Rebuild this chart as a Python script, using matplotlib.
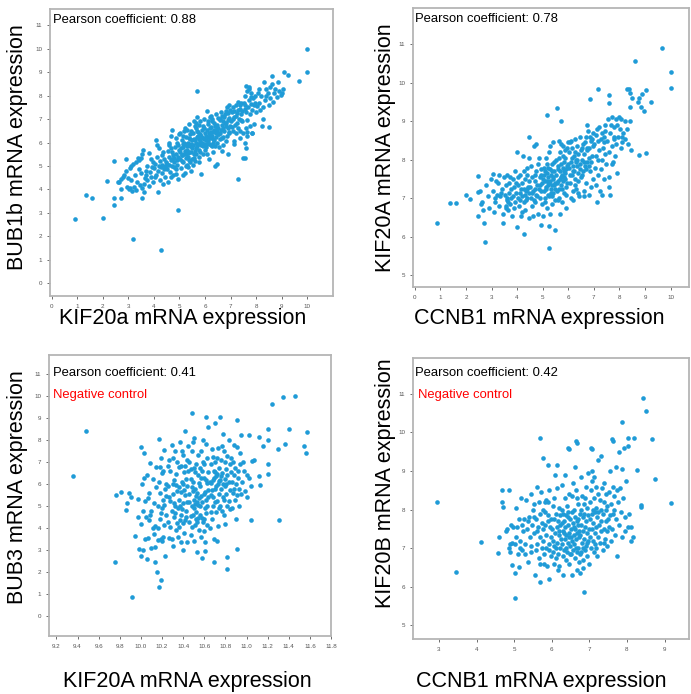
import numpy as np
import matplotlib
matplotlib.use("Agg")
import matplotlib.pyplot as plt

plt.rcParams['font.family'] = ['Liberation Sans', 'DejaVu Sans']

# ---- panel A: KIF20a vs BUB1b ----
kif20a_bub1b = [
    (0.9, 2.75), (1.35, 3.75), (1.6, 3.62), (2.0, 2.78), (2.15, 4.37), (2.45, 5.2),
    (2.45, 3.62), (2.45, 3.35), (2.6, 4.32), (2.7, 3.64), (2.9, 5.28), (3.2, 1.9),
    (4.26, 1.41), (4.96, 3.1), (5.68, 8.2), (7.28, 4.45), (9.97, 10.0), (10.0, 9.0),
    (9.66, 8.63), (9.07, 9.02), (8.5, 6.66), (7.47, 5.36),
    (2.62, 4.32), (2.7, 4.45), (2.78, 4.55), (2.85, 4.62), (2.72, 4.0), (2.95, 4.1), (2.9, 4.8), (2.98, 4.5),
    (3.05, 4.9), (3.12, 4.98), (3.2, 5.08), (3.3, 5.15), (3.4, 5.25), (3.48, 5.35), (3.55, 5.5),
    (3.02, 4.0), (3.08, 4.05), (3.15, 3.95), (3.22, 4.12), (3.3, 3.98), (3.35, 4.3), (3.25, 4.6),
    (3.42, 4.85), (3.45, 4.2), (3.38, 5.35), (3.1, 4.4), (3.48, 4.7),
    (3.52, 3.65), (3.55, 4.05), (3.6, 3.9), (3.62, 4.25), (3.65, 4.5), (3.7, 4.8), (3.72, 5.0),
    (3.75, 4.4), (3.8, 4.15), (3.85, 4.75), (3.88, 5.3), (3.9, 4.55), (3.92, 4.95), (3.58, 5.7),
    (3.68, 4.62), (3.95, 5.15), (3.98, 4.3), (3.82, 5.55),
    (4.02, 4.9), (4.05, 5.1), (4.08, 6.1), (4.1, 4.6), (4.12, 5.4), (4.15, 4.8), (4.18, 3.9),
    (4.2, 5.0), (4.22, 4.4), (4.25, 5.2), (4.28, 4.95), (4.3, 5.05), (4.32, 4.7), (4.35, 5.6),
    (4.38, 4.85), (4.4, 5.3), (4.42, 4.55), (4.45, 5.0), (4.48, 5.15), (4.12, 5.9), (4.35, 4.25),
    (4.2, 5.75), (4.46, 4.9), (4.05, 4.55), (4.3, 5.45),
    (4.52, 5.1), (4.55, 4.3), (4.58, 5.4), (4.6, 5.9), (4.62, 4.75), (4.65, 5.25), (4.68, 6.3),
    (4.7, 5.0), (4.72, 5.6), (4.75, 4.6), (4.78, 5.35), (4.8, 5.15), (4.82, 5.8), (4.85, 4.85),
    (4.88, 5.5), (4.9, 6.0), (4.92, 5.25), (4.95, 4.45), (4.98, 5.7), (4.55, 5.65), (4.6, 5.05),
    (4.7, 6.55), (4.75, 5.45), (4.85, 6.2), (4.9, 5.05), (4.65, 4.55), (4.8, 4.95), (4.95, 5.4),
    (4.58, 6.0), (4.72, 5.3), (4.88, 4.65), (4.98, 6.35), (4.52, 4.85), (4.68, 5.75), (4.94, 5.9),
    (5.02, 5.3), (5.04, 5.6), (5.06, 4.9), (5.08, 6.1), (5.1, 5.45), (5.12, 5.8), (5.14, 5.15),
    (5.16, 6.5), (5.18, 5.5), (5.2, 4.7), (5.22, 5.95), (5.24, 5.35), (5.26, 6.25), (5.28, 5.7),
    (5.3, 5.05), (5.32, 6.0), (5.34, 5.55), (5.36, 6.8), (5.38, 5.25), (5.4, 5.85), (5.42, 6.35),
    (5.44, 5.6), (5.46, 4.8), (5.48, 6.1), (5.05, 5.75), (5.1, 5.2), (5.15, 6.3), (5.2, 5.65),
    (5.25, 5.0), (5.3, 6.55), (5.35, 5.4), (5.4, 6.15), (5.45, 5.95), (5.5, 5.3), (5.08, 5.45),
    (5.18, 6.0), (5.28, 5.85), (5.38, 5.6), (5.48, 5.75), (5.12, 4.6), (5.22, 6.6), (5.32, 4.95),
    (5.42, 5.15), (5.02, 6.4), (5.36, 6.2), (5.46, 6.5), (5.26, 5.5), (5.14, 5.95),
    (5.52, 5.9), (5.54, 6.4), (5.56, 5.5), (5.58, 6.9), (5.6, 6.1), (5.62, 5.2), (5.64, 6.6),
    (5.66, 5.75), (5.68, 6.25), (5.7, 7.1), (5.72, 5.95), (5.74, 6.45), (5.76, 5.4), (5.78, 6.75),
    (5.8, 6.05), (5.82, 5.6), (5.84, 6.3), (5.86, 4.65), (5.88, 6.55), (5.9, 5.85), (5.92, 6.2),
    (5.94, 7.0), (5.96, 5.95), (5.98, 6.4), (5.55, 6.15), (5.6, 5.65), (5.65, 6.0), (5.7, 6.5),
    (5.75, 5.15), (5.8, 6.35), (5.85, 5.9), (5.9, 6.7), (5.95, 6.15), (5.58, 5.35), (5.68, 5.85),
    (5.78, 6.15), (5.88, 6.0), (5.98, 5.7), (5.62, 6.7), (5.72, 6.3), (5.82, 6.9), (5.92, 5.5),
    (5.52, 5.05), (5.66, 6.85), (5.86, 6.25), (5.76, 5.7), (5.96, 6.6), (5.64, 5.5),
    (6.02, 6.3), (6.04, 5.8), (6.06, 7.35), (6.08, 6.55), (6.1, 6.05), (6.12, 6.8), (6.14, 5.3),
    (6.16, 6.4), (6.18, 7.1), (6.2, 6.2), (6.22, 5.9), (6.24, 6.65), (6.26, 6.3), (6.28, 7.0),
    (6.3, 5.6), (6.32, 6.45), (6.34, 6.1), (6.36, 6.85), (6.38, 5.0), (6.4, 6.5), (6.42, 6.25),
    (6.44, 7.2), (6.46, 6.0), (6.48, 6.6), (6.05, 6.1), (6.1, 6.9), (6.15, 5.95), (6.2, 6.6),
    (6.25, 6.45), (6.3, 6.15), (6.35, 6.55), (6.4, 5.85), (6.45, 6.75), (6.5, 6.35), (6.08, 5.5),
    (6.18, 6.35), (6.28, 5.85), (6.38, 6.7), (6.48, 5.1), (6.12, 6.25), (6.22, 7.15), (6.32, 6.0),
    (6.42, 6.4), (6.02, 5.95), (6.26, 6.9), (6.46, 6.5),
    (6.52, 6.6), (6.55, 5.8), (6.58, 7.0), (6.6, 6.4), (6.62, 7.3), (6.65, 6.2), (6.68, 6.75),
    (6.7, 5.9), (6.72, 6.9), (6.75, 6.5), (6.78, 7.2), (6.8, 6.05), (6.82, 6.85), (6.85, 7.5),
    (6.88, 6.6), (6.9, 5.5), (6.92, 7.05), (6.95, 6.45), (6.98, 7.4), (6.55, 6.35), (6.6, 6.95),
    (6.65, 5.65), (6.7, 6.6), (6.75, 7.1), (6.8, 6.7), (6.85, 6.3), (6.9, 6.95), (6.95, 7.6),
    (6.58, 6.15), (6.68, 7.15), (6.78, 6.85), (6.88, 7.25), (6.98, 6.7), (6.62, 6.55), (6.72, 6.25),
    (6.82, 7.35), (6.92, 6.4), (6.52, 7.05),
    (7.02, 6.9), (7.05, 7.3), (7.08, 6.5), (7.1, 7.5), (7.12, 6.05), (7.15, 7.1), (7.18, 6.75),
    (7.2, 7.6), (7.22, 6.4), (7.25, 7.25), (7.28, 7.75), (7.3, 6.6), (7.32, 7.0), (7.35, 7.45),
    (7.38, 6.2), (7.4, 7.7), (7.42, 6.95), (7.45, 7.35), (7.48, 6.4), (7.05, 6.65), (7.1, 7.0),
    (7.15, 5.95), (7.2, 7.15), (7.25, 6.85), (7.3, 7.4), (7.35, 6.5), (7.4, 7.2), (7.45, 6.9),
    (7.12, 7.35), (7.38, 7.6),
    (7.58, 7.6), (7.6, 7.3), (7.62, 6.95), (7.6, 6.6), (7.62, 6.3), (7.58, 6.0), (7.6, 5.75), (7.55, 5.35),
    (7.52, 7.7), (7.55, 8.0), (7.6, 8.4), (7.65, 8.2), (7.68, 7.5), (7.7, 7.8), (7.72, 8.35),
    (7.75, 7.2), (7.78, 7.65), (7.8, 8.1), (7.82, 6.4), (7.85, 7.4), (7.88, 7.9), (7.9, 6.8),
    (7.92, 7.6), (7.95, 8.0), (7.98, 7.3), (7.65, 6.45), (7.75, 6.7), (7.85, 6.4), (7.7, 8.3),
    (7.95, 7.7), (7.55, 7.45), (7.8, 7.95),
    (8.02, 7.55), (8.05, 8.1), (8.1, 7.7), (8.15, 7.4), (8.2, 8.0), (8.25, 7.0), (8.3, 8.6),
    (8.35, 7.8), (8.4, 8.3), (8.45, 8.1), (8.48, 7.6), (8.12, 8.3), (8.28, 7.5), (8.38, 8.0), (8.22, 6.7),
    (8.52, 8.35), (8.55, 7.9), (8.6, 8.5), (8.62, 8.85), (8.7, 8.1), (8.75, 8.3), (8.8, 7.95),
    (8.85, 8.6), (8.9, 8.2), (8.95, 8.05), (8.65, 7.75),
    (9.02, 8.1), (9.05, 8.3), (9.25, 8.9),
]

# ---- panel B: CCNB1 vs KIF20A ----
ccnb1_kif20a = [
    (0.87, 6.37), (1.37, 6.88), (1.6, 6.88), (2.0, 7.1), (2.15, 6.98), (2.47, 7.58), (2.48, 7.17),
    (2.46, 6.55), (2.63, 6.91), (2.66, 6.7), (2.7, 6.35), (2.75, 5.86), (3.05, 7.63), (3.44, 6.35),
    (3.98, 6.26), (4.27, 6.07), (4.48, 8.6), (5.16, 9.16), (5.55, 9.35), (5.71, 9.0), (5.26, 5.7),
    (5.5, 6.19), (5.25, 6.27), (6.86, 9.59), (7.17, 9.85), (7.59, 9.69), (7.59, 9.48), (8.59, 10.57),
    (9.67, 10.9), (10.03, 10.27), (10.0, 9.86), (8.76, 8.12), (9.04, 8.17), (8.29, 9.84), (8.37, 9.84),
    (8.41, 9.73), (8.49, 9.6), (8.41, 9.38), (8.76, 9.6), (8.9, 9.72), (9.03, 9.8), (8.72, 9.5),
    (8.84, 9.36), (8.97, 9.28), (9.23, 9.51),
    (2.55, 7.2), (2.6, 6.85), (2.8, 7.35), (2.88, 7.05), (2.92, 6.75), (2.98, 7.5),
    (3.05, 7.2), (3.1, 6.65), (3.12, 7.0), (3.18, 7.45), (3.22, 7.1), (3.28, 6.8), (3.3, 7.6),
    (3.35, 7.05), (3.4, 7.25), (3.45, 6.6), (3.48, 7.55), (3.15, 6.9), (3.38, 7.15), (3.25, 7.4),
    (3.52, 7.1), (3.55, 6.8), (3.58, 7.35), (3.6, 6.95), (3.62, 7.6), (3.65, 6.7), (3.68, 7.15),
    (3.7, 7.4), (3.72, 6.85), (3.75, 7.0), (3.78, 7.25), (3.8, 6.55), (3.82, 7.5), (3.85, 7.05),
    (3.88, 7.3), (3.9, 6.9), (3.92, 7.7), (3.95, 7.15), (3.98, 8.2), (3.58, 6.75), (3.66, 6.9),
    (3.74, 7.55), (3.86, 6.75), (3.96, 7.4), (3.6, 7.0),
    (4.02, 7.0), (4.05, 7.35), (4.08, 6.8), (4.1, 7.6), (4.12, 7.15), (4.15, 6.55), (4.18, 7.4),
    (4.2, 7.05), (4.22, 8.1), (4.25, 6.9), (4.28, 7.25), (4.3, 7.5), (4.32, 6.7), (4.35, 7.2),
    (4.38, 7.8), (4.4, 7.0), (4.42, 7.3), (4.45, 6.5), (4.48, 7.15), (4.05, 7.55), (4.15, 7.25),
    (4.25, 7.7), (4.35, 6.95), (4.45, 7.45), (4.1, 6.95), (4.3, 7.1), (4.4, 7.6), (4.2, 6.65),
    (4.48, 8.05), (4.38, 7.25),
    (4.52, 7.3), (4.55, 7.0), (4.58, 7.55), (4.6, 6.8), (4.62, 7.2), (4.65, 8.35), (4.68, 7.45),
    (4.7, 6.9), (4.72, 7.7), (4.75, 7.1), (4.78, 7.35), (4.8, 6.6), (4.82, 7.9), (4.85, 7.25),
    (4.88, 7.55), (4.9, 7.0), (4.92, 7.75), (4.95, 6.3), (4.98, 7.4), (4.55, 7.85), (4.62, 6.55),
    (4.7, 7.6), (4.78, 7.05), (4.85, 8.05), (4.92, 7.2), (4.98, 6.85), (4.58, 7.15), (4.68, 7.25),
    (4.88, 7.35), (4.75, 8.4), (4.95, 7.6), (4.65, 6.95),
    (5.02, 7.5), (5.04, 7.2), (5.06, 7.8), (5.08, 6.9), (5.1, 7.45), (5.12, 8.05), (5.14, 7.3),
    (5.16, 7.65), (5.18, 6.75), (5.2, 7.55), (5.22, 7.1), (5.24, 8.2), (5.26, 7.4), (5.28, 7.75),
    (5.3, 6.6), (5.32, 7.6), (5.34, 7.25), (5.36, 7.9), (5.38, 7.05), (5.4, 7.5), (5.42, 8.45),
    (5.44, 7.35), (5.46, 7.7), (5.48, 6.95), (5.05, 7.6), (5.1, 7.0), (5.15, 7.9), (5.2, 7.35),
    (5.25, 7.05), (5.3, 7.45), (5.35, 7.7), (5.4, 7.15), (5.45, 7.95), (5.5, 7.4), (5.12, 7.25),
    (5.22, 7.8), (5.32, 7.15), (5.42, 7.55), (5.08, 7.7), (5.28, 8.35), (5.38, 6.85), (5.48, 7.25),
    (5.18, 7.45), (5.02, 6.55), (5.36, 7.35),
    (5.52, 7.6), (5.54, 8.0), (5.56, 7.2), (5.58, 7.85), (5.6, 7.45), (5.62, 8.5), (5.64, 7.0),
    (5.66, 7.7), (5.68, 8.2), (5.7, 7.35), (5.72, 7.9), (5.74, 6.9), (5.76, 7.6), (5.78, 8.35),
    (5.8, 7.8), (5.82, 7.15), (5.84, 7.95), (5.86, 7.5), (5.88, 8.05), (5.9, 6.75), (5.92, 7.75),
    (5.94, 8.3), (5.96, 7.4), (5.98, 7.9), (5.55, 7.4), (5.6, 7.75), (5.65, 8.05), (5.7, 7.55),
    (5.75, 7.25), (5.8, 8.1), (5.85, 7.7), (5.9, 7.3), (5.95, 7.85), (5.58, 6.95), (5.68, 7.5),
    (5.78, 7.45), (5.88, 7.65), (5.98, 8.45), (5.62, 7.25), (5.72, 8.4), (5.82, 7.55), (5.92, 7.1),
    (5.66, 6.6), (5.86, 8.25),
    (6.02, 7.8), (6.04, 8.2), (6.06, 7.4), (6.08, 8.45), (6.1, 7.0), (6.12, 7.95), (6.14, 7.6),
    (6.16, 8.3), (6.18, 7.85), (6.2, 6.95), (6.22, 8.1), (6.24, 7.7), (6.26, 8.55), (6.28, 7.5),
    (6.3, 8.0), (6.32, 7.25), (6.34, 7.85), (6.36, 8.35), (6.38, 7.65), (6.4, 8.15), (6.42, 7.05),
    (6.44, 7.9), (6.46, 8.6), (6.48, 7.55), (6.05, 7.6), (6.15, 8.05), (6.25, 7.35), (6.35, 8.0),
    (6.45, 7.75), (6.1, 8.5), (6.2, 7.7), (6.3, 7.95), (6.4, 7.45), (6.5, 8.25), (6.18, 7.2),
    (6.38, 7.15), (6.28, 8.2),
    (6.52, 8.0), (6.55, 7.6), (6.58, 8.4), (6.6, 7.2), (6.62, 8.15), (6.65, 7.85), (6.68, 8.6),
    (6.7, 7.4), (6.72, 8.25), (6.75, 7.95), (6.78, 8.75), (6.8, 7.1), (6.82, 8.3), (6.85, 7.7),
    (6.88, 8.5), (6.9, 7.95), (6.92, 8.1), (6.95, 7.5), (6.98, 8.7), (6.55, 8.3), (6.6, 7.95),
    (6.65, 8.45), (6.7, 7.75), (6.75, 8.3), (6.8, 8.05), (6.85, 8.6), (6.9, 7.3), (6.95, 8.35),
    (6.62, 7.05), (6.72, 8.9), (6.82, 7.85), (6.92, 8.55), (6.58, 7.7),
    (7.02, 8.4), (7.05, 7.8), (7.08, 8.65), (7.1, 8.1), (7.12, 8.8), (7.15, 7.6), (7.18, 8.5),
    (7.2, 8.25), (7.22, 8.85), (7.25, 7.2), (7.28, 8.55), (7.3, 8.0), (7.32, 8.7), (7.35, 8.3),
    (7.38, 7.5), (7.4, 8.6), (7.42, 8.9), (7.45, 8.15), (7.48, 7.9), (7.08, 7.35), (7.18, 8.0),
    (7.28, 7.75), (7.38, 8.45), (7.12, 6.9), (7.32, 7.1), (7.45, 8.75),
    (7.52, 8.5), (7.55, 9.05), (7.58, 8.2), (7.6, 7.3), (7.62, 8.7), (7.65, 7.1), (7.68, 8.9),
    (7.7, 8.35), (7.72, 9.1), (7.75, 7.95), (7.78, 8.6), (7.8, 8.85), (7.82, 8.1), (7.85, 9.05),
    (7.88, 8.4), (7.9, 7.65), (7.92, 8.9), (7.95, 8.6), (7.98, 9.1), (7.6, 7.55), (7.7, 7.9), (7.8, 8.55),
    (8.02, 8.8), (8.05, 9.05), (8.1, 8.45), (8.15, 8.7), (8.2, 9.0), (8.22, 8.55), (8.3, 8.8),
    (8.4, 9.0), (8.45, 8.25), (8.05, 8.3), (8.12, 8.6), (8.35, 8.4),
]

# ---- panel C: KIF20A vs BUB3 (negative control) ----
kif20a_bub3 = [
    (9.355, 6.39), (9.48, 8.42), (9.755, 2.47), (9.765, 5.5), (9.81, 5.66), (9.87, 5.13), (9.86, 4.83),
    (9.885, 5.58), (9.91, 5.43), (9.92, 0.86), (9.94, 3.66), (9.97, 5.34), (9.97, 4.52), (10.15, 1.99),
    (10.19, 1.62), (10.175, 1.34), (10.13, 2.44), (10.69, 2.47), (10.82, 2.67), (10.82, 2.12),
    (10.91, 3.07), (11.04, 4.37), (11.31, 4.37), (11.24, 9.65), (11.35, 9.95), (11.46, 10.02),
    (11.40, 8.5), (11.36, 7.81), (11.3, 7.6), (11.54, 7.75), (11.56, 7.44), (11.57, 8.39),
    (11.2, 8.51), (11.2, 8.03), (11.16, 7.74), (11.12, 8.13), (11.2, 6.92), (11.2, 6.46),
    (11.12, 6.37), (11.13, 5.96), (11.07, 7.1), (11.0, 6.4), (11.02, 8.24), (10.95, 8.22),
    (10.48, 9.26), (10.62, 9.06), (10.75, 9.04), (10.91, 8.94),
    (10.0, 2.75), (10.02, 3.0), (10.0, 4.2), (10.02, 4.8), (10.03, 6.3), (10.0, 7.7), (10.03, 7.4),
    (10.04, 5.25), (9.98, 3.05), (10.05, 4.5), (10.01, 6.0), (10.04, 3.5),
    (10.06, 2.6), (10.07, 3.55), (10.08, 4.35), (10.08, 5.6), (10.09, 6.95), (10.1, 3.1), (10.1, 4.8),
    (10.11, 6.25), (10.12, 5.15), (10.12, 3.75), (10.13, 4.1), (10.14, 5.85), (10.14, 6.8),
    (10.09, 4.6), (10.07, 5.35), (10.13, 3.15), (10.11, 4.0), (10.06, 6.4),
    (10.16, 3.45), (10.16, 5.0), (10.17, 8.05), (10.17, 6.1), (10.18, 4.4), (10.18, 5.6), (10.19, 3.5),
    (10.19, 7.2), (10.2, 4.9), (10.2, 6.5), (10.21, 5.3), (10.21, 3.6), (10.22, 4.15), (10.22, 7.55),
    (10.23, 5.8), (10.23, 2.75), (10.24, 4.6), (10.24, 6.0), (10.16, 4.0), (10.18, 6.8), (10.2, 3.4),
    (10.22, 5.05), (10.24, 5.45), (10.19, 4.7), (10.21, 6.6),
    (10.26, 4.3), (10.26, 5.9), (10.27, 7.1), (10.27, 3.55), (10.28, 5.25), (10.28, 6.6), (10.29, 4.8),
    (10.29, 7.8), (10.3, 3.2), (10.3, 5.55), (10.31, 4.5), (10.31, 6.2), (10.32, 7.5), (10.32, 5.0),
    (10.33, 3.9), (10.33, 6.45), (10.34, 4.25), (10.34, 5.7), (10.26, 6.85), (10.28, 4.05), (10.3, 6.0),
    (10.32, 4.7), (10.34, 7.0), (10.27, 5.4), (10.29, 3.5), (10.31, 5.15), (10.33, 5.95), (10.35, 4.9),
    (10.3, 7.2), (10.35, 3.6),
    (10.36, 5.3), (10.36, 6.8), (10.37, 4.35), (10.37, 7.9), (10.38, 5.65), (10.38, 3.35), (10.39, 6.1),
    (10.39, 4.85), (10.4, 7.35), (10.4, 5.15), (10.41, 6.55), (10.41, 3.8), (10.42, 5.5), (10.42, 8.4),
    (10.43, 4.5), (10.43, 6.25), (10.44, 5.9), (10.44, 7.1), (10.36, 4.05), (10.38, 6.85), (10.4, 4.25),
    (10.42, 6.85), (10.44, 3.35), (10.37, 5.0), (10.39, 7.5), (10.41, 5.75), (10.43, 4.8), (10.45, 6.6),
    (10.4, 3.0), (10.38, 4.6), (10.42, 4.35), (10.44, 5.2), (10.36, 5.85), (10.4, 6.0), (10.45, 7.75),
    (10.46, 4.3), (10.46, 5.55), (10.47, 6.7), (10.47, 3.7), (10.48, 5.0), (10.48, 7.5), (10.49, 4.6),
    (10.49, 6.1), (10.5, 5.3), (10.5, 8.1), (10.51, 4.15), (10.51, 5.8), (10.52, 6.9), (10.52, 4.75),
    (10.53, 5.2), (10.53, 2.9), (10.54, 6.4), (10.54, 4.45), (10.46, 5.2), (10.48, 4.05), (10.5, 4.9),
    (10.52, 5.45), (10.54, 5.05), (10.47, 6.25), (10.49, 5.7), (10.51, 6.55), (10.53, 4.3), (10.55, 5.35),
    (10.46, 7.0), (10.5, 3.4), (10.52, 4.4), (10.54, 7.35), (10.48, 5.85), (10.5, 6.75), (10.53, 5.6),
    (10.55, 3.9), (10.47, 4.55), (10.51, 5.1), (10.49, 7.9), (10.55, 6.05),
    (10.56, 4.6), (10.56, 5.9), (10.57, 7.5), (10.57, 3.6), (10.58, 5.2), (10.58, 6.6), (10.59, 4.3),
    (10.59, 8.0), (10.6, 5.55), (10.6, 6.9), (10.61, 4.9), (10.61, 3.35), (10.62, 6.2), (10.62, 5.3),
    (10.63, 7.2), (10.63, 4.15), (10.64, 5.75), (10.64, 8.6), (10.56, 5.0), (10.58, 4.45), (10.6, 6.3),
    (10.62, 4.7), (10.64, 6.55), (10.57, 5.45), (10.59, 7.0), (10.61, 5.65), (10.63, 5.0), (10.65, 4.0),
    (10.56, 6.75), (10.6, 4.4), (10.62, 7.85), (10.64, 5.4), (10.58, 2.65), (10.6, 3.85), (10.65, 6.1),
    (10.57, 6.3), (10.63, 6.05), (10.61, 2.95),
    (10.66, 5.5), (10.66, 6.9), (10.67, 4.4), (10.67, 7.6), (10.68, 6.2), (10.68, 5.0), (10.69, 6.6),
    (10.69, 3.5), (10.7, 5.8), (10.7, 8.8), (10.71, 4.75), (10.71, 6.35), (10.72, 7.2), (10.72, 5.25),
    (10.73, 6.0), (10.73, 4.1), (10.74, 6.75), (10.74, 5.55), (10.66, 6.05), (10.68, 7.25), (10.7, 5.2),
    (10.72, 6.45), (10.74, 4.9), (10.67, 5.75), (10.69, 6.3), (10.71, 5.9), (10.73, 7.65), (10.75, 6.2),
    (10.66, 4.75), (10.7, 6.55), (10.72, 3.4), (10.74, 6.15), (10.68, 5.4), (10.75, 5.0), (10.7, 7.0),
    (10.76, 5.8), (10.76, 7.1), (10.77, 4.8), (10.77, 6.5), (10.78, 6.0), (10.78, 8.3), (10.79, 5.3),
    (10.79, 7.5), (10.8, 6.25), (10.8, 4.2), (10.81, 6.7), (10.81, 5.55), (10.82, 7.3), (10.82, 5.0),
    (10.83, 6.1), (10.83, 8.0), (10.84, 5.75), (10.84, 6.9), (10.76, 6.35), (10.78, 5.4), (10.8, 7.0),
    (10.82, 6.4), (10.84, 4.85), (10.77, 7.75), (10.79, 4.6), (10.81, 6.0), (10.83, 5.25), (10.85, 7.2),
    (10.8, 5.9), (10.85, 6.55),
    (10.86, 6.1), (10.86, 4.9), (10.87, 7.0), (10.87, 5.6), (10.88, 6.4), (10.88, 7.8), (10.89, 5.3),
    (10.89, 6.75), (10.9, 6.0), (10.9, 4.4), (10.91, 5.5), (10.91, 7.7), (10.92, 6.3), (10.93, 5.0),
    (10.93, 5.8), (10.94, 6.9), (10.94, 7.4), (10.92, 6.6), (10.95, 5.55), (10.88, 5.8),
    (10.96, 6.1), (10.97, 7.0), (10.98, 6.6), (11.0, 5.4), (11.02, 6.3), (11.04, 5.9), (11.05, 7.05),
    (10.99, 5.7),
]

# ---- panel D: CCNB1 vs KIF20B (negative control) ----
ccnb1_kif20b = [
    (2.94, 8.2), (3.45, 6.38), (4.12, 7.17), (4.56, 6.89), (4.6, 7.29), (4.68, 8.51), (4.68, 8.2),
    (4.71, 8.07), (4.85, 8.5), (5.03, 5.7), (4.94, 6.58), (5.03, 6.36), (5.13, 6.52), (5.7, 9.85),
    (5.78, 9.35), (5.9, 9.17), (5.68, 6.13), (5.94, 6.2), (6.86, 5.87), (6.75, 6.36), (7.88, 10.27),
    (8.43, 10.9), (8.51, 10.56), (8.66, 9.84), (8.74, 8.8), (8.38, 8.13), (8.38, 8.07), (9.18, 8.18),
    (7.73, 6.8), (8.2, 9.86), (8.27, 9.04), (8.11, 7.2), (8.02, 7.54), (6.47, 9.57), (6.42, 9.6),
    (6.64, 9.78), (6.68, 9.73), (7.04, 9.6), (7.06, 9.56), (7.6, 9.84), (7.62, 9.77), (8.04, 9.85),
    (4.78, 7.45), (4.82, 7.5), (4.85, 7.0), (4.9, 6.9), (4.92, 7.6), (4.95, 7.15), (4.98, 7.55), (4.88, 7.1),
    (5.02, 7.1), (5.05, 8.05), (5.08, 7.55), (5.1, 6.85), (5.12, 7.75), (5.15, 7.2), (5.18, 8.3),
    (5.2, 7.6), (5.22, 6.95), (5.24, 7.45), (5.06, 7.3), (5.16, 7.0),
    (5.27, 7.75), (5.3, 7.1), (5.32, 8.25), (5.35, 7.5), (5.38, 6.65), (5.4, 7.8), (5.42, 7.3),
    (5.44, 8.4), (5.46, 6.9), (5.48, 7.6), (5.3, 6.85), (5.36, 7.7), (5.45, 7.05), (5.49, 8.0),
    (5.52, 7.4), (5.54, 8.15), (5.56, 6.3), (5.58, 7.75), (5.6, 7.1), (5.62, 8.6), (5.64, 7.55),
    (5.66, 6.75), (5.68, 7.9), (5.7, 7.3), (5.72, 8.45), (5.74, 7.0), (5.53, 7.8), (5.57, 6.95),
    (5.61, 7.45), (5.65, 8.2), (5.69, 6.6), (5.73, 7.65),
    (5.76, 7.2), (5.78, 8.0), (5.8, 6.85), (5.82, 7.6), (5.84, 8.25), (5.86, 7.35), (5.88, 6.55),
    (5.9, 7.85), (5.92, 7.1), (5.94, 8.5), (5.96, 7.55), (5.98, 6.8), (5.77, 7.5), (5.81, 8.2),
    (5.85, 7.0), (5.89, 7.7), (5.93, 6.95), (5.97, 7.3), (5.79, 6.6), (5.83, 7.95), (5.91, 8.2), (5.99, 7.75),
    (6.01, 7.5), (6.02, 6.9), (6.03, 8.1), (6.04, 7.2), (6.05, 7.75), (6.06, 6.6), (6.07, 8.3),
    (6.08, 7.4), (6.1, 7.0), (6.11, 7.9), (6.12, 6.75), (6.13, 7.55), (6.14, 8.55), (6.15, 7.15),
    (6.16, 7.7), (6.17, 6.85), (6.18, 7.35), (6.19, 8.05), (6.2, 6.55), (6.21, 7.6), (6.22, 7.0),
    (6.23, 7.85), (6.24, 7.25), (6.09, 8.9), (6.13, 9.15), (6.19, 7.45), (6.05, 7.05), (6.17, 6.45),
    (6.26, 7.65), (6.27, 7.1), (6.28, 8.0), (6.29, 6.8), (6.3, 7.45), (6.31, 7.9), (6.32, 6.95),
    (6.33, 7.7), (6.34, 8.3), (6.35, 7.25), (6.36, 7.55), (6.37, 6.7), (6.38, 7.85), (6.39, 7.35),
    (6.4, 8.1), (6.41, 6.9), (6.42, 7.6), (6.43, 7.15), (6.44, 7.95), (6.45, 6.6), (6.46, 7.4),
    (6.47, 8.4), (6.48, 7.75), (6.49, 7.05), (6.28, 8.65), (6.33, 7.4), (6.38, 7.0), (6.43, 7.8),
    (6.48, 6.85), (6.3, 6.3), (6.36, 8.9), (6.45, 7.3),
    (6.51, 7.5), (6.52, 6.85), (6.53, 7.95), (6.54, 7.2), (6.55, 8.35), (6.56, 7.65), (6.57, 6.95),
    (6.58, 7.35), (6.59, 8.0), (6.6, 7.1), (6.61, 7.8), (6.62, 6.75), (6.63, 7.5), (6.64, 8.5),
    (6.65, 7.25), (6.66, 7.7), (6.67, 6.9), (6.68, 7.4), (6.69, 8.15), (6.7, 7.0), (6.71, 7.6),
    (6.72, 6.65), (6.73, 7.3), (6.74, 7.9), (6.52, 7.3), (6.56, 8.7), (6.6, 7.55), (6.64, 7.0),
    (6.68, 6.45), (6.72, 7.45), (6.55, 6.3), (6.62, 9.1), (6.66, 8.3), (6.7, 7.75), (6.74, 6.85),
    (6.76, 7.35), (6.77, 8.0), (6.78, 6.9), (6.79, 7.6), (6.8, 8.35), (6.81, 7.15), (6.82, 7.8),
    (6.83, 6.7), (6.84, 7.45), (6.85, 8.15), (6.86, 7.25), (6.87, 7.9), (6.88, 6.95), (6.89, 7.55),
    (6.9, 8.6), (6.91, 7.05), (6.92, 7.7), (6.93, 6.8), (6.94, 7.4), (6.95, 8.05), (6.96, 7.2),
    (6.97, 7.85), (6.98, 6.6), (6.99, 7.5), (6.78, 8.85), (6.84, 7.0), (6.88, 8.3), (6.93, 7.15),
    (6.97, 8.95), (6.82, 6.5),
    (7.01, 7.75), (7.02, 8.2), (7.03, 7.3), (7.04, 8.5), (7.05, 7.0), (7.06, 7.9), (7.07, 7.5),
    (7.08, 8.75), (7.09, 7.2), (7.1, 8.0), (7.11, 7.65), (7.12, 6.9), (7.13, 8.3), (7.14, 7.4),
    (7.15, 7.95), (7.16, 7.1), (7.17, 8.6), (7.18, 7.55), (7.19, 8.05), (7.2, 6.8), (7.21, 7.8),
    (7.22, 8.4), (7.23, 7.3), (7.24, 9.3), (7.06, 9.0), (7.12, 8.85), (7.18, 7.0), (7.22, 7.95),
    (7.26, 7.6), (7.27, 8.25), (7.28, 7.15), (7.3, 8.0), (7.31, 9.4), (7.32, 7.45), (7.34, 8.55),
    (7.35, 7.9), (7.36, 6.95), (7.38, 8.2), (7.39, 7.5), (7.4, 8.7), (7.42, 7.25), (7.43, 8.0),
    (7.44, 7.7), (7.45, 8.4), (7.46, 7.05), (7.47, 7.45), (7.48, 8.1), (7.49, 7.75), (7.3, 7.7), (7.4, 7.15),
    (7.51, 8.45), (7.53, 7.55), (7.55, 9.0), (7.57, 7.2), (7.58, 8.15), (7.6, 7.5), (7.62, 8.6),
    (7.64, 7.9), (7.66, 8.35), (7.68, 7.35), (7.7, 9.1), (7.72, 7.75), (7.74, 8.5), (7.56, 7.85), (7.65, 8.0),
    (7.76, 8.2), (7.78, 7.6), (7.8, 9.5), (7.82, 8.55), (7.84, 7.95), (7.86, 9.05), (7.88, 7.3),
    (7.9, 8.3), (7.92, 9.6), (7.95, 7.8), (7.98, 8.75), (7.96, 7.45),
    (8.03, 9.65), (8.06, 7.9), (8.1, 7.55), (8.15, 7.3),
]

pearson = ['0.88', '0.78', '0.41', '0.42']
xlabels = ['KIF20a mRNA expression', 'CCNB1 mRNA expression',
           'KIF20A mRNA expression', 'CCNB1 mRNA expression']
ylabels = ['BUB1b mRNA expression', 'KIF20A mRNA expression',
           'BUB3 mRNA expression', 'KIF20B mRNA expression']
xticks = [np.arange(0, 11), np.arange(0, 11),
          np.round(np.arange(9.2, 11.81, 0.2), 1), np.arange(3, 10)]
yticks = [np.arange(0, 12), np.arange(5, 12), np.arange(0, 12), np.arange(5, 12)]
xlims = [(-0.06, 11.0), (-0.07, 10.72), (9.13, 11.8), (2.31, 9.65)]
ylims = [(-0.55, 11.7), (4.7, 11.94), (-0.91, 11.88), (4.65, 11.93)]
negative = [False, False, True, True]

W, H = 691, 694
# axes boxes in pixels: left, top, right, bottom
boxes = [(50, 9, 333, 296), (413, 8, 689, 287), (49, 355, 331, 636), (413, 358, 689, 639)]
# label centres in pixels
xlab_pos = [(183, 318), (539, 318), (187, 681), (541, 681)]
ylab_pos = [(18, 147), (385, 148), (18, 487), (385, 483)]
# annotation positions in pixels (left x, centre y)
pearson_pos = [(53, 20), (415, 19), (53, 373), (415, 373)]
negctrl_pos = [None, None, (53, 395), (418, 395)]

dot = '#1f9bd7'
fig = plt.figure(figsize=(W / 100, H / 100), dpi=100)

panels = [kif20a_bub1b, ccnb1_kif20a, kif20a_bub3, ccnb1_kif20b]
for i, pts in enumerate(panels):
    l, t, r, b = boxes[i]
    ax = fig.add_axes([l / W, 1 - b / H, (r - l) / W, (b - t) / H])
    arr = np.array(pts)
    ax.scatter(arr[:, 0], arr[:, 1], s=11, color=dot, linewidths=0)
    ax.set_xlim(*xlims[i])
    ax.set_ylim(*ylims[i])
    ax.set_xticks(xticks[i])
    ax.set_yticks(yticks[i])
    if i == 2:
        ax.set_xticklabels(['%.1f' % v for v in xticks[i]])
    ax.tick_params(labelsize=4.5, colors='#555555', length=2.5, width=0.6, pad=3)
    for sp in ax.spines.values():
        sp.set_color('#b5b5b5')
        sp.set_linewidth(1.3)

    px, py = pearson_pos[i]
    fig.text(px / W, 1 - py / H, 'Pearson coefficient: ' + pearson[i],
             fontsize=9.4, va='center', ha='left', color='black')
    if negative[i]:
        nx, ny = negctrl_pos[i]
        fig.text(nx / W, 1 - ny / H, 'Negative control',
                 fontsize=9.4, va='center', ha='left', color='red')

    fig.text(xlab_pos[i][0] / W, 1 - xlab_pos[i][1] / H, xlabels[i],
             fontsize=15.5, ha='center', va='center')
    fig.text(ylab_pos[i][0] / W, 1 - ylab_pos[i][1] / H, ylabels[i],
             fontsize=15.5, ha='center', va='center', rotation=90)

fig.savefig('out.png', dpi=100)
